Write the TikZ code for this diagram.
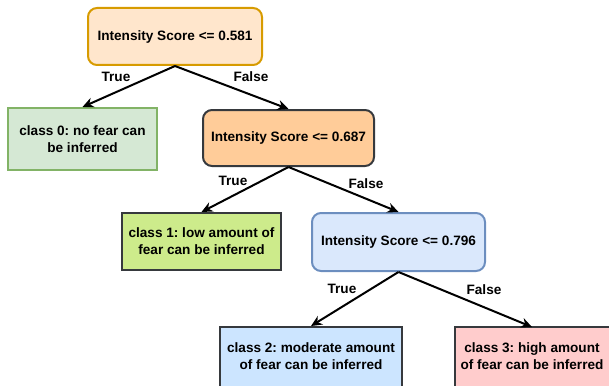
\documentclass[tikz,border=0pt]{standalone}
\usepackage{fontspec}
\setmainfont{Liberation Sans}
\usetikzlibrary{arrows.meta}
\frenchspacing
\definecolor{aF}{HTML}{FFE6CC}\definecolor{aD}{HTML}{D79B00}
\definecolor{gF}{HTML}{D5E8D4}\definecolor{gD}{HTML}{82B366}
\definecolor{bF}{HTML}{FFCC99}\definecolor{dk}{HTML}{36393D}
\definecolor{lF}{HTML}{CDEB8B}
\definecolor{cF}{HTML}{DAE8FC}\definecolor{cD}{HTML}{6C8EBF}
\definecolor{c2F}{HTML}{CCE5FF}\definecolor{c3F}{HTML}{FFCCCC}
\tikzset{
  txt/.style={font=\fontsize{13.6}{17}\selectfont\bfseries\frenchspacing},
  box/.style={draw, line width=2pt, align=center, txt, inner sep=0pt},
  rbox/.style={box, rounded corners=9pt},
  edge/.style={line width=2pt, -{Stealth[length=11pt,width=10pt]}},
  lbl/.style={txt, inner sep=0pt}
}
\begin{document}
\begin{tikzpicture}[x=1pt,y=-1pt]
\useasboundingbox (0,0) rectangle (609,385);
\clip (0,0) rectangle (609,385);
\node[rbox, fill=aF, draw=aD, minimum width=174pt, minimum height=57pt] (A) at (175,36.5) {Intensity Score <= 0.581};
\node[box, fill=gF, draw=gD, minimum width=149pt, minimum height=62pt] (c0) at (82.5,139) {class 0: no fear can\\be inferred};
\node[rbox, fill=bF, draw=dk, minimum width=171pt, minimum height=56pt] (B) at (288.5,138) {Intensity Score <= 0.687};
\node[box, fill=lF, draw=dk, minimum width=159pt, minimum height=57pt] (c1) at (201.5,241.5) {class 1: low amount of\\fear can be inferred};
\node[rbox, fill=cF, draw=cD, minimum width=173pt, minimum height=58pt] (C) at (398.5,242) {Intensity Score <= 0.796};
\node[box, fill=c2F, draw=dk, minimum width=182pt, minimum height=66pt] (c2) at (311,360) {};
\node[box, fill=c3F, draw=dk, minimum width=170pt, minimum height=66pt] (c3) at (540,360) {};
\node[txt, align=center] (c2t) at (311,356) {class 2: moderate amount\\of fear can be inferred};
\node[txt, align=center] (c3x) at (532,356) {class 3: high amount\\of fear can be inferred};
\draw[edge] (A.south) -- (c0.north);
\draw[edge] (A.south) -- (B.north);
\draw[edge] (B.south) -- (c1.north);
\draw[edge] (B.south) -- (C.north);
\coordinate (c3t) at (532,327);
\draw[edge] (C.south) -- (c2.north);
\draw[edge] (C.south) -- (c3t);
\node[lbl] (t1) at (116,77) {True};
\node[lbl] (f1) at (251,77) {False};
\node[lbl] (t2) at (233,181) {True};
\node[lbl] (f2) at (366,184) {False};
\node[lbl] (t3) at (342,289) {True};
\node[lbl] (f3) at (484,290) {False};
\end{tikzpicture}
\end{document}
